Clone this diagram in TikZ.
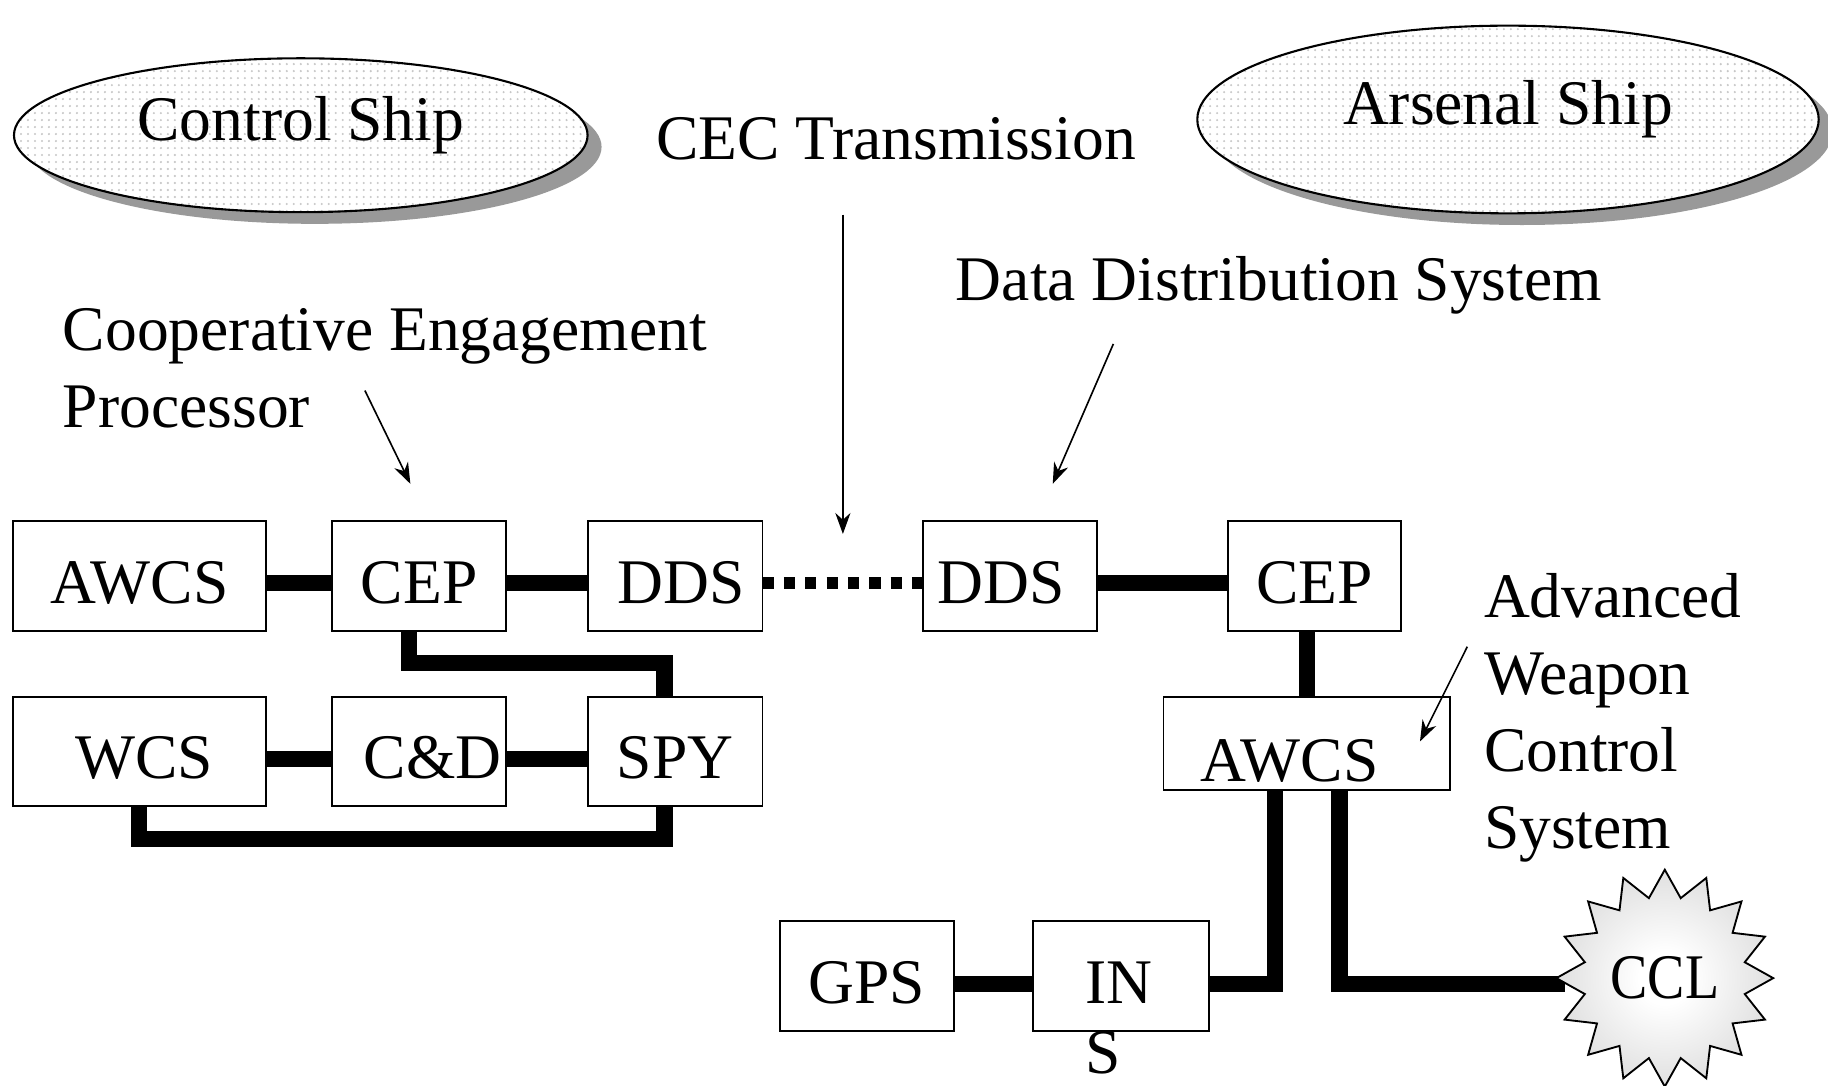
\documentclass[tikz,border=0pt]{standalone}
\usepackage{fontspec}
\setmainfont{Liberation Serif}
\usetikzlibrary{shapes.geometric,arrows.meta,patterns,shadows}
\pgfdeclareradialshading{cclshade}{\pgfpoint{0bp}{0bp}}{color(0bp)=(white); color(6bp)=(white); color(40bp)=(black!22); color(70bp)=(black!22)}
\begin{document}
\begin{tikzpicture}[x=0.5pt,y=-0.5pt,
  every node/.style={inner sep=0pt, outer sep=0pt},
  font=\fontsize{27.25pt}{33pt}\selectfont,
  box/.style={draw, line width=0.8pt, fill=white, text height=23.4pt, text depth=0pt},
  link/.style={line width=6.9pt},
  dotlink/.style={line width=4.8pt, dash pattern=on 4.8pt off 4.37pt},
  pointer/.style={line width=0.7pt, -{Stealth[length=9pt,width=6.5pt]}},
  ship/.style={ellipse, draw, line width=0.9pt,
    drop shadow={shadow xshift=6pt, shadow yshift=-5pt, fill=black!40, opacity=1},
    preaction={fill=white}, pattern=dots, pattern color=black!22,
    text height=18.6pt, text depth=14.1pt},
  lbl/.style={align=left, anchor=base west}
]
\useasboundingbox (0,0) rectangle (1568,931);

% ships
\node[ship, minimum width=246pt, minimum height=66pt] (control) at (258,116) {Control Ship};
\node[ship, minimum width=266.5pt, minimum height=80.5pt] (arsenal) at (1293.5,102.5) {Arsenal Ship};

% labels (base anchor = baseline of last line)
\node[anchor=base] (cectext) at (768.5,137) {CEC Transmission};
\node[anchor=base west] (ddstext) at (820,258) {Data Distribution System};
\node[lbl] (cooptext) at (54,367) {Cooperative Engagement\\Processor};
\node[lbl] (awcstext) at (1273,728) {Advanced\\Weapon\\Control\\System};

% row reference coordinates
\coordinate (r1) at (0,500);
\coordinate (r2) at (0,651);
\coordinate (r3) at (0,844);

% boxes
\node[box, minimum width=108.5pt, minimum height=47pt] (awcs1) at (119.5,494) {AWCS};
\node[box, minimum width=74.5pt, minimum height=47pt] (cep1) at (359.5,494) {CEP};
\node[box, minimum width=75pt, minimum height=47pt] (dds1) at (579,494) {\hspace*{5.5pt}DDS};
\node[box, minimum width=74.5pt, minimum height=47pt] (dds2) at (866.5,494) {DDS\hspace*{7.5pt}};
\node[box, minimum width=74.5pt, minimum height=47pt] (cep2) at (1127.5,494) {CEP};
\node[box, minimum width=108.5pt, minimum height=46.5pt] (wcs) at (119.5,644.5) {\hspace*{4pt}WCS};
\node[box, minimum width=74.5pt, minimum height=46.5pt] (cd) at (359.5,644.5) {\hspace*{11.5pt}C\&D};
\node[box, minimum width=75pt, minimum height=46.5pt] (spy) at (579,644.5) {SPY};
\node[box, minimum width=123pt, minimum height=40pt, text height=32.7pt] (awcs2) at (1121,638) {AWCS\hspace*{15pt}};
\node[box, minimum width=74.5pt, minimum height=47pt] (gps) at (743.5,837) {GPS};
\node[box, minimum width=75.5pt, minimum height=47pt] (ins) at (961.5,837) {};
\node[lbl, font=\fontsize{27.25pt}{30pt}\selectfont] (instext) at (931,921) {IN\\S};

% connectors
\draw[link] (awcs1.east |- r1) -- (cep1.west |- r1);
\draw[link] (cep1.east |- r1) -- (dds1.west |- r1);
\draw[dotlink] (dds1.east |- r1) -- (dds2.west |- r1);
\draw[link] (dds2.east |- r1) -- (cep2.west |- r1);
\draw[link] (awcs2.north |- cep2.south) -- (awcs2.north);
\draw[link] ([xshift=-4.25pt]cep1.south) |- (570,569) -- ([xshift=-4.5pt]spy.north);
\draw[link] (wcs.east |- r2) -- (cd.west |- r2);
\draw[link] (cd.east |- r2) -- (spy.west |- r2);
\draw[link] (wcs.south) |- (570,719.7) -- ([xshift=-4.5pt]spy.south);
\draw[link] (gps.east |- r3) -- (ins.west |- r3);
\draw[link] ([xshift=-13.6pt]awcs2.south) |- (ins.east |- r3);

% CCL
\coordinate (cclin) at (1342,844);
\draw[link] ([xshift=14pt]awcs2.south) |- (cclin);
\node[star, star points=16, star point ratio=1.33, minimum size=93pt, draw, line width=0.8pt,
  shading=cclshade] (ccl) at (1428,839) {\scalebox{0.88}[1]{CCL}};

% pointer arrows
\coordinate (p1s) at (313,335); \coordinate (p1e) at (352,415);
\coordinate (p2s) at (723,184); \coordinate (p2e) at (723,458);
\coordinate (p3s) at (955,295); \coordinate (p3e) at (903,415);
\coordinate (p4s) at (1258.6,554.7); \coordinate (p4e) at (1218,636);
\draw[pointer] (p1s) -- (p1e);
\draw[pointer] (p2s) -- (p2e);
\draw[pointer] (p3s) -- (p3e);
\draw[pointer] (p4s) -- (p4e);
\end{tikzpicture}
\end{document}
